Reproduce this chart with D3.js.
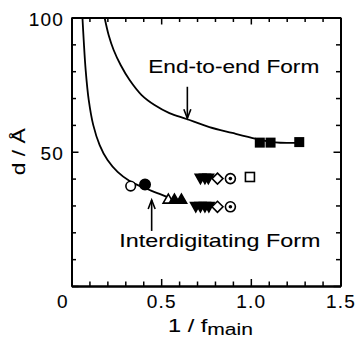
<!DOCTYPE html>
<html>
<head>
<meta charset="utf-8">
<script src="https://cdn.jsdelivr.net/npm/d3@7"></script>
<style>
  body { margin: 0; background: #fff; }
  svg { display: block; }
  text { font-family: "Liberation Sans", Arial, sans-serif; fill: #000; stroke: #000; stroke-width: 0.1px; }
</style>
</head>
<body>
<svg id="chart" width="355" height="340"></svg>
<script>
// ticks
const xMajorTicks = [0, 0.5, 1.0, 1.5];
const xMinorTicks = [0.1, 0.2, 0.3, 0.4, 0.6, 0.7, 0.8, 0.9, 1.1, 1.2, 1.3, 1.4];
const yMajorTicks = [0, 50, 100];
const yMinorTicks = [10, 20, 30, 40, 60, 70, 80, 90];

// fitted curves (1/fmain, d)
const interCurveX = [0.061, 0.068, 0.079, 0.096, 0.121, 0.157, 0.201, 0.257, 0.324, 0.407, 0.491, 0.546];
const interCurveD = [100, 91.6, 80.4, 69.3, 60.0, 52.5, 46.9, 42.5, 39.1, 36.5, 34.3, 32.8];
const endCurveX = [0.185, 0.207, 0.235, 0.274, 0.324, 0.391, 0.463, 0.546, 0.641, 0.769, 0.897, 1.03, 1.113, 1.274];
const endCurveD = [99.8, 93.5, 87.9, 82.3, 76.7, 71.1, 67.4, 64.4, 62.2, 59.2, 57.0, 54.8, 53.6, 53.3];

// measured points
const openCircleX = [0.33];         const openCircleD = [37.2];
const filledCircleX = [0.41];       const filledCircleD = [37.8];
const openTriangleX = [0.54];       const openTriangleD = [32.2];
const filledTriangleX = [0.574, 0.613]; const filledTriangleD = [32.2, 32.2];
const downTriangleX = [0.719, 0.744, 0.763, 0.693, 0.719, 0.744, 0.766];
const downTriangleD = [40, 40, 40, 29.5, 29.5, 29.5, 29.5];
const openDiamondX = [0.814, 0.814]; const openDiamondD = [40, 29.5];
const targetX = [0.886, 0.886];      const targetD = [40, 29.5];
const openSquareX = [0.995];         const openSquareD = [40.6];
const filledSquareX = [1.05, 1.11, 1.27]; const filledSquareD = [53.4, 53.4, 53.6];

const svg = d3.select('#chart');
const x = d3.scaleLinear().domain([0, 1.5]).range([71.5, 340.5]);
const y = d3.scaleLinear().domain([0, 100]).range([286, 17.5]);

const zip = (xs, ds) => xs.map((v, i) => ({ x: v, d: ds[i] }));

// axes: ticks point inward on all four sides
function styleAxis(g) {
  g.select('.domain').attr('stroke', '#000').attr('stroke-width', 2);
  g.selectAll('.tick line').attr('stroke', '#000').attr('stroke-width', 1.5);
  g.selectAll('.tick text')
    .attr('font-size', 19)
    .attr('letter-spacing', 1.2)
    .attr('font-family', '"Liberation Sans", Arial, sans-serif');
}

const fmtX = (d) => (d === 0 ? '0' : d3.format('.1f')(d));

svg.append('g').attr('transform', `translate(0,${y(0)})`)
  .call(d3.axisBottom(x).tickValues(xMinorTicks).tickSizeInner(-4.5).tickSizeOuter(0).tickFormat(''))
  .call(styleAxis);
svg.append('g').attr('transform', `translate(0,${y(0)})`)
  .call(d3.axisBottom(x).tickValues(xMajorTicks).tickSizeInner(-7).tickSizeOuter(0).tickPadding(9).tickFormat(fmtX))
  .call(styleAxis)
  .call((g) => g.selectAll('.tick text').filter((d) => d === 0).attr('dx', -9));

svg.append('g').attr('transform', `translate(0,${y(100)})`)
  .call(d3.axisTop(x).tickValues(xMinorTicks).tickSizeInner(-4.5).tickSizeOuter(0).tickFormat(''))
  .call(styleAxis);
svg.append('g').attr('transform', `translate(0,${y(100)})`)
  .call(d3.axisTop(x).tickValues(xMajorTicks).tickSizeInner(-7).tickSizeOuter(0).tickFormat(''))
  .call(styleAxis);

svg.append('g').attr('transform', `translate(${x(0)},0)`)
  .call(d3.axisLeft(y).tickValues(yMinorTicks).tickSizeInner(-4.5).tickSizeOuter(0).tickFormat(''))
  .call(styleAxis);
svg.append('g').attr('transform', `translate(${x(0)},0)`)
  .call(d3.axisLeft(y).tickValues(yMajorTicks).tickSizeInner(-7).tickSizeOuter(0).tickPadding(7.5)
    .tickFormat((d) => (d === 0 ? '' : d)))
  .call(styleAxis)
  .call((g) => g.selectAll('.tick text').attr('dy', '0.42em'));

svg.append('g').attr('transform', `translate(${x(1.5)},0)`)
  .call(d3.axisRight(y).tickValues(yMinorTicks).tickSizeInner(-4.5).tickSizeOuter(0).tickFormat(''))
  .call(styleAxis);
svg.append('g').attr('transform', `translate(${x(1.5)},0)`)
  .call(d3.axisRight(y).tickValues(yMajorTicks).tickSizeInner(-7).tickSizeOuter(0).tickFormat(''))
  .call(styleAxis);

// axis titles
svg.append('text')
  .attr('transform', `translate(25,${y(50)}) rotate(-90)`)
  .attr('text-anchor', 'middle')
  .attr('font-size', 19)
  .attr('textLength', 47)
  .attr('lengthAdjust', 'spacingAndGlyphs')
  .text('d / Å');

const xTitle = svg.append('text')
  .attr('x', 168)
  .attr('y', 332)
  .attr('font-size', 19);
xTitle.append('tspan').text('1 / f');
xTitle.append('tspan').attr('dy', 2.5).attr('font-size', 17).text('main');
xTitle.attr('textLength', 85).attr('lengthAdjust', 'spacingAndGlyphs');

// curves
const line = d3.line().x((p) => x(p.x)).y((p) => y(p.d)).curve(d3.curveCatmullRom);
svg.append('path').datum(zip(interCurveX, interCurveD))
  .attr('d', line).attr('fill', 'none').attr('stroke', '#000').attr('stroke-width', 1.8);
svg.append('path').datum(zip(endCurveX, endCurveD))
  .attr('d', line).attr('fill', 'none').attr('stroke', '#000').attr('stroke-width', 1.8);

// markers
const markers = svg.append('g').attr('stroke', '#000').attr('stroke-width', 1.6);
const upTri = 'M0,-5.5L5.2,3.6L-5.2,3.6Z';
const downTri = 'M-5.2,-4.2L5.2,-4.2L0,5Z';
const diamond = 'M0,-5.5L5.5,0L0,5.5L-5.5,0Z';

function shapes(path, xs, ds, fill) {
  markers.selectAll(null).data(zip(xs, ds)).join('path')
    .attr('transform', (p) => `translate(${x(p.x)},${y(p.d)})`)
    .attr('d', path).attr('fill', fill);
}

markers.selectAll(null).data(zip(openCircleX, openCircleD)).join('circle')
  .attr('cx', (p) => x(p.x)).attr('cy', (p) => y(p.d)).attr('r', 4.8).attr('fill', '#fff');
markers.selectAll(null).data(zip(filledCircleX, filledCircleD)).join('circle')
  .attr('cx', (p) => x(p.x)).attr('cy', (p) => y(p.d)).attr('r', 5.2).attr('fill', '#000');

shapes(upTri, openTriangleX, openTriangleD, '#fff');
shapes(upTri, filledTriangleX, filledTriangleD, '#000');
shapes(downTri, downTriangleX, downTriangleD, '#000');
shapes(diamond, openDiamondX, openDiamondD, '#fff');

const targets = markers.selectAll(null).data(zip(targetX, targetD)).join('g')
  .attr('transform', (p) => `translate(${x(p.x)},${y(p.d)})`);
targets.append('circle').attr('r', 5).attr('fill', '#fff');
targets.append('circle').attr('r', 1.8).attr('fill', '#000').attr('stroke', 'none');

markers.selectAll(null).data(zip(openSquareX, openSquareD)).join('rect')
  .attr('x', (p) => x(p.x) - 4.5).attr('y', (p) => y(p.d) - 4.5)
  .attr('width', 9).attr('height', 9).attr('fill', '#fff');
markers.selectAll(null).data(zip(filledSquareX, filledSquareD)).join('rect')
  .attr('x', (p) => x(p.x) - 5).attr('y', (p) => y(p.d) - 5)
  .attr('width', 10).attr('height', 10).attr('fill', '#000').attr('stroke', 'none');

// annotations
function arrow(x0, dFrom, dTo) {
  const px = x(x0), y0 = y(dFrom), y1 = y(dTo);
  const dir = y1 > y0 ? 1 : -1;
  const g = svg.append('g').attr('stroke', '#000').attr('stroke-width', 1.6).attr('fill', 'none');
  g.append('line').attr('x1', px).attr('x2', px).attr('y1', y0).attr('y2', y1);
  g.append('path').attr('d', `M${px - 3.5},${y1 - dir * 9}L${px},${y1}L${px + 3.5},${y1 - dir * 9}`);
}
arrow(0.646, 74.2, 62.5);
arrow(0.447, 20.5, 32.0);

svg.append('text')
  .attr('x', x(0.428)).attr('y', y(79.2))
  .attr('font-size', 19)
  .attr('textLength', 171).attr('lengthAdjust', 'spacingAndGlyphs')
  .text('End-to-end Form');
svg.append('text')
  .attr('x', x(0.267)).attr('y', y(14.6))
  .attr('font-size', 19)
  .attr('textLength', 201).attr('lengthAdjust', 'spacingAndGlyphs')
  .text('Interdigitating Form');
</script>
</body>
</html>
